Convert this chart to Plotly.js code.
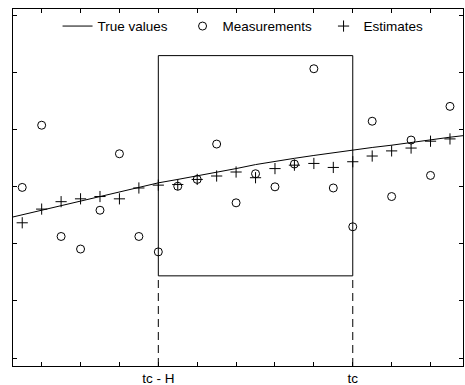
<!DOCTYPE html>
<html>
<head>
<meta charset="utf-8">
<script src="https://cdn.plot.ly/plotly-3.0.1.min.js"></script>
<style>html,body{margin:0;padding:0;background:#fff;}#chart{width:465px;height:385px;}</style>
</head>
<body>
<div id="chart"></div>
<script>
// Time steps
const tTrue = [0,1,2,3,4,5,6,7,8,9,10,11,12,13,14,15,16,17,18,19,20,21,22,23,24];
const trueValues = [2.43,2.51,2.59,2.67,2.75,2.84,2.92,3.00,3.07,3.13,3.19,3.26,3.32,3.39,3.45,3.50,3.55,3.60,3.65,3.69,3.73,3.78,3.82,3.87,3.91];
const tObs = [1,2,3,4,5,6,7,8,9,10,11,12,13,14,15,16,17,18,19,20,21,22,23];
const measurements = [2.99,4.08,2.13,1.91,2.59,3.58,2.13,1.86,3.01,3.13,3.75,2.72,3.23,3.00,3.40,5.07,2.98,2.30,4.15,2.83,3.82,3.20,4.41];
const estimates = [2.37,2.61,2.74,2.79,2.83,2.79,2.98,3.03,3.04,3.13,3.19,3.26,3.16,3.32,3.38,3.41,3.34,3.44,3.54,3.63,3.68,3.80,3.84];
// Window
const tc = 18;
const H = 10;
const boxLow = 1.44;
const boxHigh = 5.30;
// Axis ticks
const xTickVals = [2,4,6,8,10,12,14,16,18,20,22];
const xTickText = ['','','','tc - H','','','','','tc','',''];
const yTickVals = [0,1,2,3,4,5,6];
const xRange = [0.526, 23.67];
const yRange = [-0.14, 6.117];

const font = 'Arial, "Liberation Sans", sans-serif';

const traces = [
  {x: tTrue, y: trueValues, type: 'scatter', mode: 'lines', name: 'True values',
   line: {color: '#000', width: 1}, legendwidth: 80},
  {x: tObs, y: measurements, type: 'scatter', mode: 'markers', name: 'Measurements',
   marker: {symbol: 'circle-open', size: 8, color: '#000', line: {width: 1, color: '#000'}}, legendwidth: 96},
  {x: tObs, y: estimates, type: 'scatter', mode: 'markers', name: 'Estimates',
   marker: {symbol: 'cross-thin-open', size: 8, color: '#000', line: {width: 1, color: '#000'}}}
];

const shapes = [
  {type: 'rect', xref: 'x', yref: 'y', x0: tc - H, x1: tc, y0: boxLow, y1: boxHigh,
   line: {color: '#000', width: 1}, fillcolor: 'rgba(0,0,0,0)'},
  {type: 'line', xref: 'x', yref: 'y', x0: tc - H, x1: tc - H, y0: yRange[0], y1: boxLow,
   line: {color: '#000', width: 1, dash: '8px,5px'}},
  {type: 'line', xref: 'x', yref: 'y', x0: tc, x1: tc, y0: yRange[0], y1: boxLow,
   line: {color: '#000', width: 1, dash: '8px,5px'}}
];

const layout = {
  width: 465, height: 385,
  margin: {l: 13, r: 2, t: 9, b: 19},
  paper_bgcolor: '#fff', plot_bgcolor: '#fff',
  font: {family: font, size: 13.5, color: '#000'},
  showlegend: true,
  legend: {orientation: 'h', x: 0.099, xanchor: 'left', y: 0.995, yanchor: 'top',
           bgcolor: 'rgba(0,0,0,0)', font: {family: font, size: 13.5, color: '#000'}},
  xaxis: {range: xRange, showgrid: false, zeroline: false, showline: true, mirror: 'ticks',
          linecolor: '#000', linewidth: 1, ticks: 'inside', ticklen: 4, tickcolor: '#000',
          tickmode: 'array', tickvals: xTickVals, ticktext: xTickText,
          tickfont: {family: font, size: 13.5, color: '#000'}},
  yaxis: {range: yRange, showgrid: false, zeroline: false, showline: true, mirror: 'ticks',
          linecolor: '#000', linewidth: 1, ticks: 'inside', ticklen: 4, tickcolor: '#000',
          tickmode: 'array', tickvals: yTickVals, showticklabels: false},
  shapes: shapes
};

Plotly.newPlot('chart', traces, layout, {staticPlot: true, displayModeBar: false});
</script>
</body>
</html>
